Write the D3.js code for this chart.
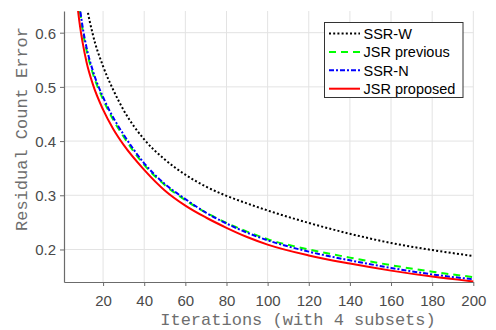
<!DOCTYPE html>
<html><head><meta charset="utf-8">
<script src="https://cdn.jsdelivr.net/npm/d3@7"></script>
<style>body{margin:0;background:#fff}svg{display:block}</style>
</head><body>
<svg id="c" width="496" height="330"></svg>
<script>
const iterations = [6, 8, 10, 12, 15, 20, 25, 30, 40, 50, 60, 70, 80, 90, 100, 120, 140, 160, 180, 200];
const ssrW        = [0.93, 0.80, 0.712, 0.652, 0.597, 0.538, 0.494, 0.457, 0.403, 0.366, 0.338, 0.316, 0.299, 0.285, 0.272, 0.249, 0.229, 0.212, 0.199, 0.188];
const jsrPrevious = [0.75, 0.663, 0.606, 0.567, 0.525, 0.477, 0.439, 0.408, 0.356, 0.319, 0.291, 0.268, 0.249, 0.233, 0.219, 0.200, 0.185, 0.171, 0.159, 0.149];
const ssrN        = [0.76, 0.67, 0.612, 0.572, 0.530, 0.481, 0.443, 0.412, 0.359, 0.321, 0.293, 0.268, 0.248, 0.231, 0.217, 0.196, 0.180, 0.166, 0.154, 0.145];
const jsrProposed = [0.72, 0.635, 0.583, 0.545, 0.505, 0.458, 0.422, 0.393, 0.347, 0.309, 0.281, 0.259, 0.240, 0.223, 0.209, 0.189, 0.174, 0.161, 0.150, 0.141];
const seriesNames = ["SSR-W", "JSR previous", "SSR-N", "JSR proposed"];
const xTicks = [20, 40, 60, 80, 100, 120, 140, 160, 180, 200];
const yTicks = [0.2, 0.3, 0.4, 0.5, 0.6];
const xLabel = "Iterations (with 4 subsets)";
const yLabel = "Residual Count Error";

const seriesValues = [ssrW, jsrPrevious, ssrN, jsrProposed];
const styles = [
  {color:"#000000", dash:"2,2.2", width:2},
  {color:"#00ff00", dash:"7,5", width:2},
  {color:"#0000ff", dash:"5,2,2,2", width:2},
  {color:"#ff0000", dash:null, width:2}
];

const L = 64, T = 11, R = 473.3, B = 282;
const svg = d3.select("#c");
const x = d3.scaleLinear().domain([1, 200]).range([L, R]);
const y = d3.scaleLinear().domain([0.14, 0.64]).range([B, T]);

// grid
const g = svg.append("g");
g.selectAll("line.vx").data(xTicks).join("line")
  .attr("x1", d => x(d)).attr("x2", d => x(d)).attr("y1", T).attr("y2", B)
  .attr("stroke", "#e3e3e3").attr("stroke-width", 1);
g.selectAll("line.hy").data(yTicks).join("line")
  .attr("x1", L).attr("x2", R).attr("y1", d => y(d)).attr("y2", d => y(d))
  .attr("stroke", "#e3e3e3").attr("stroke-width", 1);

svg.append("clipPath").attr("id", "clip").append("rect")
  .attr("x", L).attr("y", T).attr("width", R - L + 2).attr("height", B - T);

const line = d3.line().x(d => x(d[0])).y(d => y(d[1])).curve(d3.curveMonotoneX);
const plot = svg.append("g").attr("clip-path", "url(#clip)");
seriesValues.forEach((vals, i) => {
  const pts = iterations.map((it, k) => [it, vals[k]]);
  plot.append("path").attr("d", line(pts)).attr("fill", "none")
    .attr("stroke", styles[i].color).attr("stroke-width", styles[i].width)
    .attr("stroke-dasharray", styles[i].dash);
});

// axes
const xAxis = svg.append("g").attr("transform", `translate(0,${B})`)
  .call(d3.axisBottom(x).tickValues(xTicks).tickSize(4).tickSizeOuter(0).tickFormat(d3.format("d")));
const yAxis = svg.append("g").attr("transform", `translate(${L},0)`)
  .call(d3.axisLeft(y).tickValues(yTicks).tickSize(4).tickSizeOuter(0).tickFormat(d3.format(".1f")));
[xAxis, yAxis].forEach(a => {
  a.select(".domain").attr("stroke", "#6b6b6b").attr("stroke-width", 1.2);
  a.selectAll(".tick line").attr("stroke", "#6b6b6b");
  a.selectAll(".tick text").attr("fill", "#4a4a4a")
    .style("font-family", "'Liberation Sans', Arial, sans-serif").style("font-size", "15px");
});
xAxis.selectAll(".tick text").attr("dy", null).attr("y", 24);
yAxis.selectAll(".tick text").attr("x", -8).attr("dy", "0.36em");

svg.append("text").text(xLabel).attr("x", 298).attr("y", 325)
  .attr("text-anchor", "middle").attr("fill", "#6e6e6e")
  .style("font-family", "'Liberation Mono', 'Courier New', monospace").style("font-size", "17px");
svg.append("text").text(yLabel)
  .attr("transform", "translate(27,129) rotate(-90)")
  .attr("text-anchor", "middle").attr("fill", "#6e6e6e")
  .style("font-family", "'Liberation Mono', 'Courier New', monospace").style("font-size", "17px");

// legend
const lg = svg.append("g");
lg.append("rect").attr("x", 324.5).attr("y", 22.5).attr("width", 138.5).attr("height", 75)
  .attr("fill", "#fff").attr("stroke", "#333").attr("stroke-width", 1);
seriesNames.forEach((name, i) => {
  const cy = 33.5 + i * 18.4;
  lg.append("line").attr("x1", 329).attr("x2", 360).attr("y1", cy).attr("y2", cy)
    .attr("stroke", styles[i].color).attr("stroke-width", styles[i].width)
    .attr("stroke-dasharray", styles[i].dash);
  lg.append("text").text(name).attr("x", 363.5).attr("y", cy).attr("dy", "0.36em")
    .attr("fill", "#000")
    .style("font-family", "'Liberation Sans', Arial, sans-serif").style("font-size", "14.5px");
});
</script>
</body></html>
